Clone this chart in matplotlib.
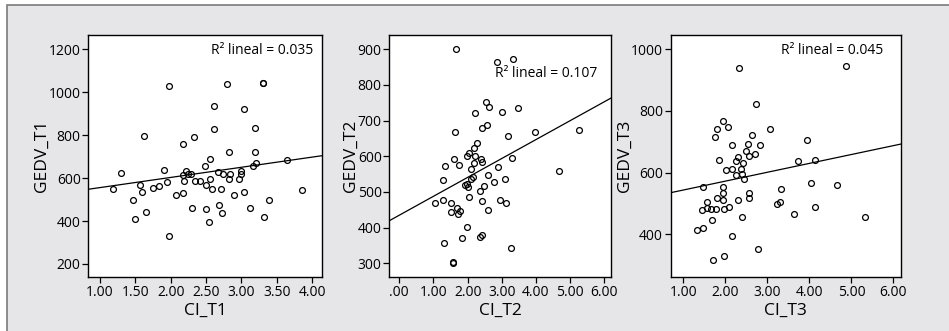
import matplotlib
matplotlib.use("Agg")
import matplotlib.pyplot as plt
from matplotlib.patches import Rectangle

plt.rcParams['font.family'] = ['Open Sans', 'DejaVu Sans']

# panel 1: CI_T1 vs GEDV_T1
ci_t1 = [1.19, 1.30, 1.47, 1.49, 1.57, 1.59, 1.62, 1.65, 1.75, 1.84, 1.91, 1.95, 1.97, 1.98,
         2.08, 2.18, 2.18, 2.17, 2.21, 2.19, 2.25, 2.28, 2.30, 2.33, 2.34, 2.42, 2.49, 2.50,
         2.50, 2.54, 2.55, 2.55, 2.58, 2.61, 2.61, 2.67, 2.68, 2.71, 2.72, 2.74, 2.79, 2.82,
         2.84, 2.83, 2.89, 2.96, 2.99, 2.99, 3.03, 3.04, 3.12, 3.16, 3.19, 3.19, 3.20, 3.30,
         3.31, 3.32, 3.39, 3.64, 3.86]
gedv_t1 = [549, 625, 496, 408, 568, 535, 796, 441, 555, 565, 638, 582, 1028, 332,
           520, 757, 529, 613, 635, 585, 621, 621, 462, 792, 588, 588, 658, 457,
           568, 394, 687, 596, 548, 936, 830, 629, 476, 551, 437, 621, 1037, 722,
           619, 597, 520, 597, 632, 619, 920, 535, 462, 658, 833, 722, 672, 1043,
           1041, 419, 500, 683, 545]

# panel 2: CI_T2 vs GEDV_T2
ci_t2 = [1.66, 2.85, 3.32, 2.55, 2.63, 3.46, 2.23, 3.01, 2.57, 2.42, 1.64, 3.98, 3.18, 5.26,
         2.27, 2.18, 2.04, 1.97, 2.21, 1.61, 1.74, 2.18, 2.38, 2.43, 3.29, 1.35, 1.28, 2.89,
         2.10, 2.61, 2.10, 2.16, 3.08, 2.78, 1.92, 1.97, 2.00, 2.48, 4.66, 2.37, 1.03, 1.28,
         1.52, 2.03, 2.42, 2.96, 3.12, 1.52, 1.69, 1.79, 1.72, 2.59, 1.97, 1.31, 1.83, 2.37,
         2.42, 3.27, 1.57, 1.56]
gedv_t2 = [900, 864, 874, 752, 739, 736, 722, 725, 688, 680, 667, 668, 658, 674,
           636, 623, 609, 601, 602, 593, 577, 580, 592, 583, 596, 572, 534, 571,
           563, 547, 536, 541, 535, 527, 519, 522, 515, 517, 558, 502, 468, 477,
           470, 486, 475, 478, 470, 445, 455, 447, 437, 450, 402, 358, 370, 375,
           379, 344, 301, 303]

# panel 3: CI_T3 vs GEDV_T3
ci_t3 = [2.33, 4.87, 2.74, 1.95, 1.79, 2.07, 1.75, 3.06, 2.64, 3.95, 2.17, 2.54, 2.83, 1.86,
         2.29, 2.48, 2.56, 2.70, 2.25, 2.41, 3.72, 4.13, 2.17, 2.02, 2.37, 2.25, 2.39, 2.44,
         1.47, 1.95, 1.94, 2.56, 3.32, 4.05, 4.65, 1.81, 2.56, 2.29, 1.95, 1.56, 3.29, 3.22,
         1.45, 1.56, 1.66, 1.78, 1.97, 2.08, 4.13, 3.64, 1.69, 2.40, 5.32, 1.33, 1.47, 2.16,
         2.77, 1.97, 1.71]
gedv_t3 = [938, 947, 823, 766, 742, 748, 717, 743, 721, 707, 690, 694, 689, 642,
           652, 670, 655, 662, 638, 632, 638, 640, 612, 607, 613, 592, 595, 578,
           555, 552, 534, 535, 548, 568, 559, 519, 517, 512, 511, 504, 505, 497,
           478, 484, 481, 481, 481, 490, 490, 467, 447, 457, 456, 414, 422, 396,
           351, 328, 317]

# fitted lines (intercept, slope) and R² labels
fit_intercepts = [508.6, 434.9, 514.8]
fit_slopes = [47.3, 53.0, 28.8]
r2_labels = ["R² lineal = 0.035", "R² lineal = 0.107", "R² lineal = 0.045"]

x_names = ["CI_T1", "CI_T2", "CI_T3"]
y_names = ["GEDV_T1", "GEDV_T2", "GEDV_T3"]
x_ticks = [[1, 1.5, 2, 2.5, 3, 3.5, 4], [0, 1, 2, 3, 4, 5, 6], [1, 2, 3, 4, 5, 6]]
x_ticklabels = [["1.00", "1.50", "2.00", "2.50", "3.00", "3.50", "4.00"],
                [".00", "1.00", "2.00", "3.00", "4.00", "5.00", "6.00"],
                ["1.00", "2.00", "3.00", "4.00", "5.00", "6.00"]]
y_ticks = [[200, 400, 600, 800, 1000, 1200],
           [300, 400, 500, 600, 700, 800, 900],
           [400, 600, 800, 1000]]

xlims = [(0.834, 4.14), (-0.293, 6.196), (0.70, 6.18)]
ylims = [(139.4, 1266.6), (261.6, 940.1), (261.5, 1046.4)]

W, H = 949, 331
fig = plt.figure(figsize=(W / 100, H / 100), dpi=100)
fig.patch.set_facecolor("white")
frame = Rectangle((7 / W, -0.05), 1.1, 1 - 5 / H + 0.05, transform=fig.transFigure,
                  facecolor="#e6e6e8", edgecolor="#7a7a7a", linewidth=1.2, zorder=-10)
fig.add_artist(frame)

boxes = [(88.3, 322), (389.3, 611), (670.7, 901)]
top, bottom = 35, 277
r2_pos = [(0.961, 0.934), (0.937, 0.839), (0.922, 0.938)]

xs = [ci_t1, ci_t2, ci_t3]
ys = [gedv_t1, gedv_t2, gedv_t3]

for i in range(3):
    l, r = boxes[i]
    ax = fig.add_axes([l / W, 1 - bottom / H, (r - l) / W, (bottom - top) / H])
    ax.set_facecolor("white")
    ax.plot(xs[i], ys[i], linestyle="none", marker="o", markersize=4.2,
            markerfacecolor="none", markeredgecolor="black", markeredgewidth=0.9)
    x0, x1 = xlims[i]
    ax.plot([x0, x1], [fit_intercepts[i] + fit_slopes[i] * x0, fit_intercepts[i] + fit_slopes[i] * x1],
            color="black", linewidth=0.9)
    ax.set_xlim(xlims[i])
    ax.set_ylim(ylims[i])
    ax.set_xticks(x_ticks[i])
    ax.set_xticklabels(x_ticklabels[i])
    ax.set_yticks(y_ticks[i])
    ax.tick_params(direction="out", length=4, width=0.9, labelsize=10, pad=1.5, colors="black")
    for s in ax.spines.values():
        s.set_linewidth(1.0)
    ax.set_xlabel(x_names[i], fontsize=12.5, labelpad=2)
    ax.set_ylabel(y_names[i], fontsize=12.5, labelpad=-1)
    ax.text(r2_pos[i][0], r2_pos[i][1], r2_labels[i], transform=ax.transAxes,
            ha="right", va="center", fontsize=10)

fig.savefig("out.png", dpi=100)
